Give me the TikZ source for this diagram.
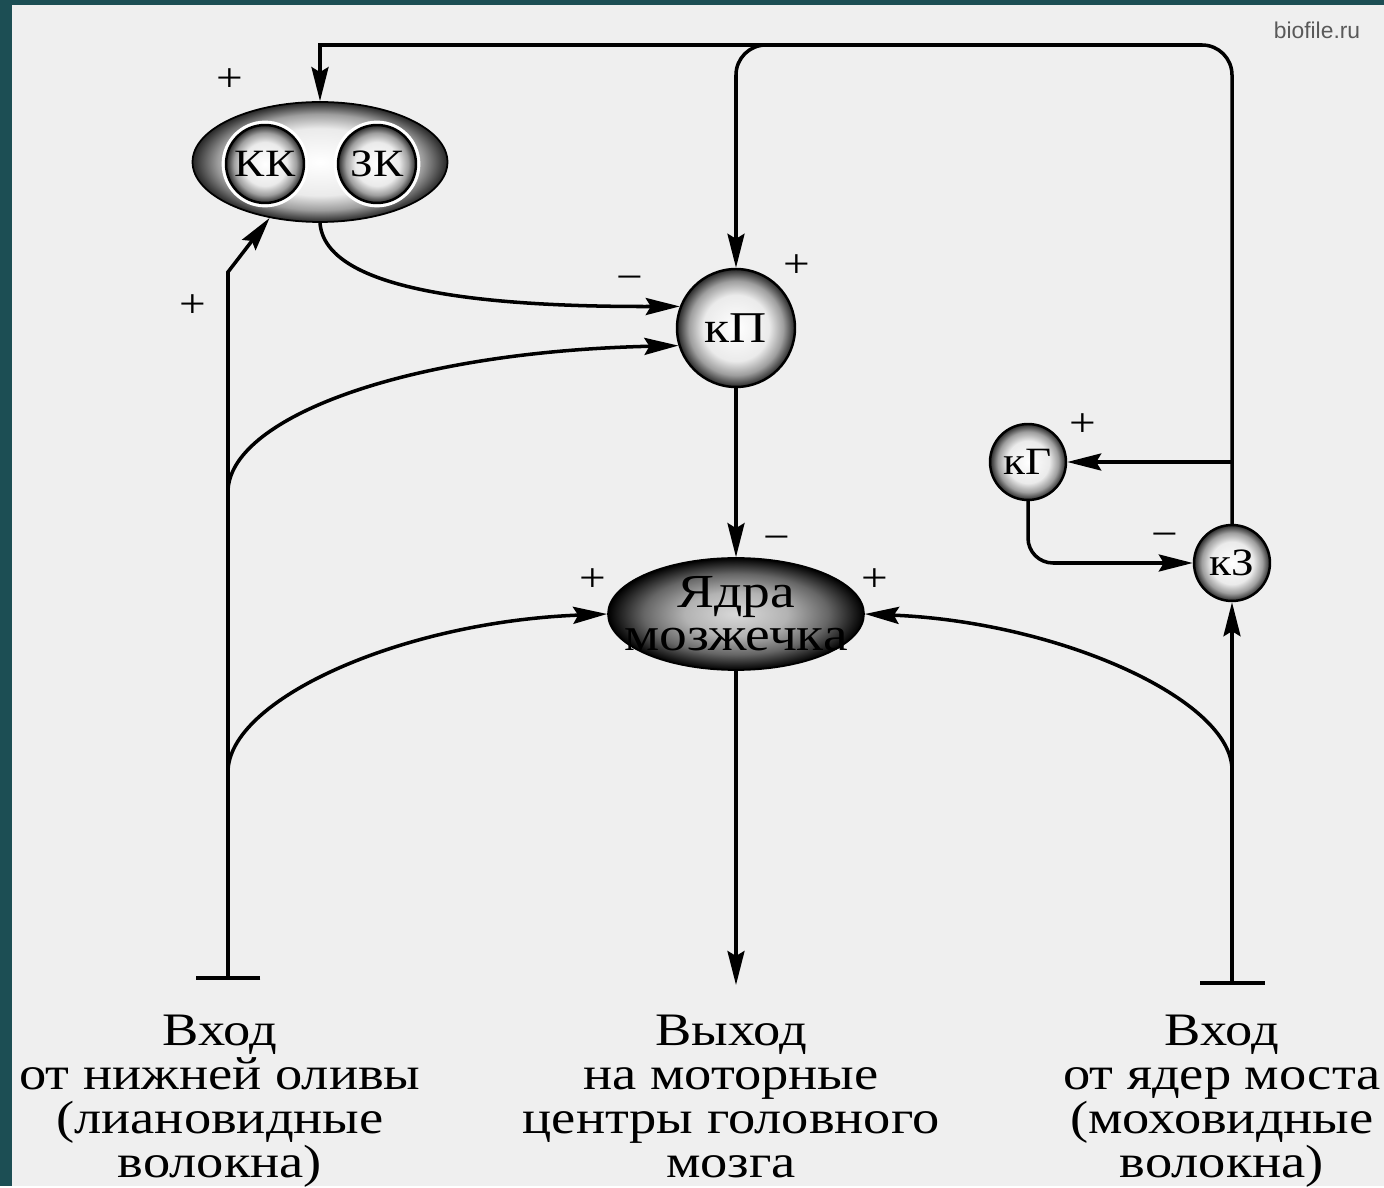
\documentclass[tikz,border=0pt]{standalone}
\usepackage{fontspec}
\setmainfont[FakeStretch=1.17]{Liberation Serif}
\newfontfamily\wmfont{Liberation Sans}
\usetikzlibrary{positioning,shapes.geometric,arrows.meta}

\definecolor{slideteal}{RGB}{28,78,84}
\definecolor{paper}{RGB}{239,239,239}

\pgfdeclareradialshading{cellshade}{\pgfpoint{0bp}{0bp}}{color(0bp)=(white); color(14bp)=(white!92!black); color(20bp)=(white!62!black); color(25bp)=(black!85); color(50bp)=(black)}
\pgfdeclareradialshading{nucshade}{\pgfpoint{0bp}{0bp}}{color(0bp)=(white!85!black); color(10bp)=(white!70!black); color(18bp)=(white!40!black); color(25bp)=(black); color(50bp)=(black)}

\begin{document}
\begin{tikzpicture}[x=0.02cm, y=-0.02cm,
    >={Stealth[length=0.68cm, width=0.34cm, inset=0.1cm]},
    wire/.style={line width=2pt},
    conn/.style={wire, ->},
    tee/.style={wire, {Bar[width=1.3cm]}->},
    cell/.style={circle, draw=black, line width=1.4pt, shading=cellshade, inner sep=0pt, font=\fontsize{22}{22}\selectfont},
    sign/.style={font=\fontsize{23}{23}\selectfont, inner sep=0pt},
    caption/.style={align=center, font=\fontsize{26.5}{25}\selectfont, inner sep=0pt, anchor=north}]

      \fill[paper] (0,0) rectangle (1384,1186);
      \fill[slideteal] (0,0) rectangle (12,1186);
      \fill[slideteal] (0,0) rectangle (1384,5);
      \node[font=\wmfont\fontsize{13}{13}\selectfont, text=gray!70!black] (wm) at (1317,30) {biofile.ru};

      \node[ellipse, minimum width=5.1cm, minimum height=2.4cm, inner sep=0pt, draw=black, line width=1pt, shading=cellshade] (pk) at (320,162) {};
      \node[cell, minimum size=1.56cm, preaction={draw=white, line width=5pt}] (kk) at (265,164) {КК};
      \node[cell, minimum size=1.56cm, preaction={draw=white, line width=5pt}] (zk) at (377,164) {ЗК};
      \node[cell, minimum size=2.36cm, font=\fontsize{25}{25}\selectfont] (kp) at (736,328) {кП};
      \node[cell, minimum size=1.52cm] (kg) at (1028,462) {кГ};
      \node[cell, minimum size=1.52cm] (kz) at (1232,563) {кЗ};
      \node[ellipse, minimum width=5.12cm, minimum height=2.24cm, inner sep=0pt, draw=black, line width=1pt, shading=nucshade] (nuc) at (736,614) {};
      \node[align=center, font=\fontsize{27}{24.5}\selectfont, inner sep=0pt] (nuctext) at (nuc) {Ядра\\мозжечка};

      \coordinate (topfork) at (790,45);
      \coordinate (gfork) at (1232,462);
      \coordinate (rightin) at (1232,985);
      \coordinate (rightfork) at (1232,770);
      \coordinate (leftin) at (228,980);
      \coordinate (leftbend) at (228,272);
      \coordinate (leftfork) at (228,492);
      \coordinate (leftforkb) at (228,772);
      \coordinate (outend) at (736,985);

      \draw[wire, rounded corners=0.6cm] (kz.north) |- (topfork);
      \draw[conn] (topfork) -| (pk.north);
      \draw[conn, rounded corners=0.6cm] (topfork) -| (kp.north);
      \draw (gfork) edge[conn] (kg.east);
      \draw[conn, rounded corners=0.5cm] (kg.south) |- (kz.west);
      \draw[tee] (rightin) -- (kz.south);
      \draw[conn] (rightfork) .. controls (1232,700) and (1060,622) .. (nuc.east);

      \draw[tee] (leftin) -- (leftbend) -- (pk.228);
      \draw[conn] (leftfork) .. controls (228,420) and (400,352) .. (kp.197);
      \draw[conn] (leftforkb) .. controls (228,700) and (400,622) .. (nuc.west);
      \draw[conn] (pk.south) .. controls (325,290) and (480,307) .. (kp.159);

      \draw (kp) edge[conn] (nuc);
      \draw (nuc) edge[conn] (outend);

      % знаки
      \node[sign] (pkplus) at (230,80) {+};
      \node[sign] (cfplus) at (193,306) {+};
      \node[sign] (kpminus) at (630,283) {−};
      \node[sign] (kpplus) at (797,266) {+};
      \node[sign] (kgplus) at (1083,425) {+};
      \node[sign] (kzminus) at (1165,540) {−};
      \node[sign] (nucminus) at (777,543) {−};
      \node[sign] (nucplusl) at (593,580) {+};
      \node[sign] (nucplusr) at (875,580) {+};

      \node[caption] (leftcap) at (220,1015) {Вход\\от нижней оливы\\(лиановидные\\волокна)};
      \node[caption] (midcap) at (731,1015) {Выход\\на моторные\\центры головного\\мозга};
      \node[caption] (rightcap) at (1222,1015) {Вход\\от ядер моста\\(моховидные\\волокна)};
    \end{tikzpicture}
\end{document}
